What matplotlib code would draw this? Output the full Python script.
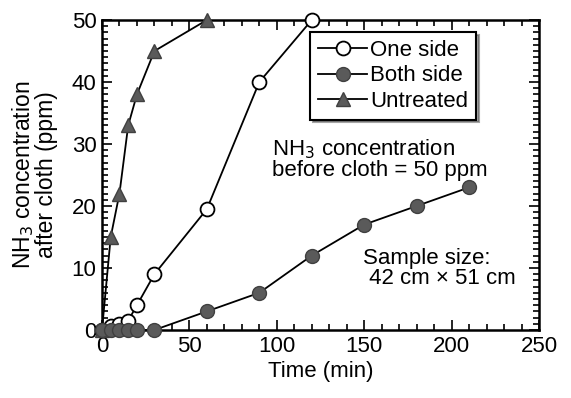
import matplotlib
matplotlib.use('Agg')
from matplotlib import pyplot as plt
from matplotlib.ticker import MultipleLocator

plt.rcParams['font.family'] = ['Liberation Sans', 'DejaVu Sans']

# data
t_one = [0, 5, 10, 15, 20, 30, 60, 90, 120]
one_side = [0, 0.6, 1.0, 1.5, 4, 9, 19.5, 40, 50]

t_both = [0, 5, 10, 15, 20, 30, 60, 90, 120, 150, 180, 210]
both_side = [0, 0, 0, 0, 0, 0, 3, 6, 12, 17, 20, 23]

t_untr = [0, 5, 10, 15, 20, 30, 60]
untreated = [0, 15, 22, 33, 38, 45, 50]

gray = '#5a5a5a'

fig = plt.figure(figsize=(5.71, 3.98), dpi=100)
ax = fig.add_axes([0.1786, 0.1709, 0.7654, 0.7788])

ax.plot(t_one, one_side, '-o', color='black', mfc='white', mec='black',
        ms=10, lw=1.3, mew=1.3, label='One side', zorder=3, clip_on=False)
ax.plot(t_both, both_side, '-o', color='black', mfc=gray, mec='#404040',
        ms=10, lw=1.3, mew=1.0, label='Both side', zorder=4, clip_on=False)
ax.plot(t_untr, untreated, '-^', color='black', mfc=gray, mec='#404040',
        ms=10, lw=1.3, mew=1.0, label='Untreated', zorder=3, clip_on=False)

ax.set_xlim(0, 250)
ax.set_ylim(0, 50)
ax.xaxis.set_major_locator(MultipleLocator(50))
ax.xaxis.set_minor_locator(MultipleLocator(10))
ax.yaxis.set_major_locator(MultipleLocator(10))
ax.yaxis.set_minor_locator(MultipleLocator(1))
ax.tick_params(which='both', direction='in', top=True, right=True,
               labelsize=16, width=1.2, pad=4)
ax.tick_params(which='major', length=7)
ax.tick_params(which='minor', length=4)
for s in ax.spines.values():
    s.set_linewidth(1.8)

ax.set_xlabel('Time (min)', fontsize=16, labelpad=3)
ax.set_ylabel('NH$_3$ concentration\nafter cloth (ppm)', fontsize=16.5,
              linespacing=0.9, labelpad=10)

leg = ax.legend(loc='upper right', bbox_to_anchor=(0.856, 0.961), fontsize=16,
                frameon=True, fancybox=False, shadow=True, handlelength=2.2,
                handletextpad=0.15, borderpad=0.35, labelspacing=0.2,
                borderaxespad=0)
leg.get_frame().set_edgecolor('black')
leg.get_frame().set_linewidth(1.5)

ax.text(0.389, 0.622, 'NH$_3$ concentration\nbefore cloth = 50 ppm',
        transform=ax.transAxes, fontsize=16, va='top', ha='left',
        linespacing=0.95)
ax.text(0.597, 0.265, 'Sample size:\n 42 cm \u00d7 51 cm',
        transform=ax.transAxes, fontsize=16, va='top', ha='left',
        linespacing=0.95)

fig.savefig('out.png', dpi=100)
